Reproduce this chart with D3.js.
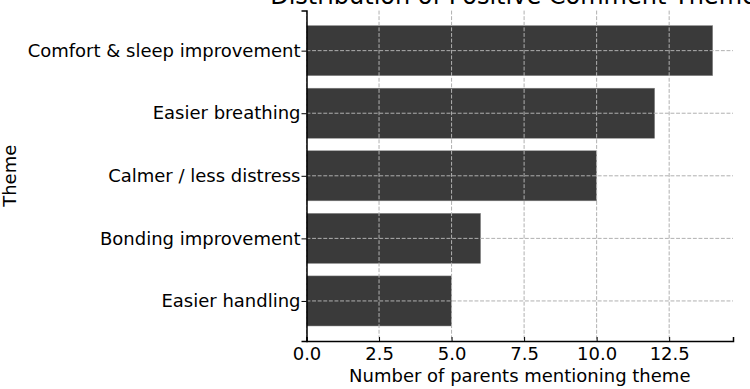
<!DOCTYPE html>
<html>
<head>
<meta charset="utf-8">
<script src="https://cdn.jsdelivr.net/npm/d3@7"></script>
<style>
  body { margin: 0; background: #fff; }
  svg { display: block; font-family: "DejaVu Sans", sans-serif; }
</style>
</head>
<body>
<svg id="chart"></svg>
<script>
// data
var themes = ["Comfort & sleep improvement", "Easier breathing", "Calmer / less distress", "Bonding improvement", "Easier handling"];
var counts = [14, 12, 10, 6, 5];
var xTicks = [0, 2.5, 5, 7.5, 10, 12.5];

var width = 750,
  height = 389,
  margin = {top: 10.6, right: 17, bottom: 48, left: 306.5},
  barColor = "#3a3a3a",
  gridColor = "#b0b0b0",
  fontFamily = "'DejaVu Sans', sans-serif";

var innerW = width - margin.left - margin.right,
  innerH = height - margin.top - margin.bottom;

var svg = d3.select("#chart").attr("width", width).attr("height", height);
var g = svg.append("g").attr("transform", "translate(" + margin.left + "," + margin.top + ")");

var x = d3.scaleLinear().domain([0, d3.max(counts) * 1.05]).range([0, innerW]);
// category positions like matplotlib barh: index 0 at top, 0.64 padding each side
var y = d3.scaleLinear().domain([-0.64, themes.length - 1 + 0.64]).range([0, innerH]);
var barH = y(0.4) - y(-0.4);

g.selectAll("rect.bar")
  .data(themes)
  .enter()
  .append("rect")
  .attr("class", "bar")
  .attr("x", x(0))
  .attr("y", function(d, i) { return y(i) - barH / 2; })
  .attr("width", function(d, i) { return x(counts[i]) - x(0); })
  .attr("height", barH)
  .style("fill", barColor)
  .style("stroke", "#8a8a8a")
  .style("stroke-width", 0.5);

// grid sits on top of the bars
g.selectAll("line.vgrid")
  .data(xTicks)
  .enter()
  .append("line")
  .attr("class", "vgrid")
  .attr("x1", function(d) { return x(d); })
  .attr("x2", function(d) { return x(d); })
  .attr("y1", 0).attr("y2", innerH)
  .style("stroke", gridColor)
  .style("stroke-width", 1)
  .style("stroke-dasharray", "3.9,1.7");

g.selectAll("line.hgrid")
  .data(themes)
  .enter()
  .append("line")
  .attr("class", "hgrid")
  .attr("x1", 0).attr("x2", innerW)
  .attr("y1", function(d, i) { return y(i); })
  .attr("y2", function(d, i) { return y(i); })
  .style("stroke", gridColor)
  .style("stroke-width", 1)
  .style("stroke-dasharray", "3.9,1.7");

// x axis, ticks pointing inward
var xAxis = d3.axisBottom(x).tickValues(xTicks).tickFormat(d3.format(".1f")).tickSizeOuter(0).tickSize(-4).tickPadding(6);
var gx = g.append("g").attr("transform", "translate(0," + innerH + ")").call(xAxis);
gx.attr("font-family", fontFamily).attr("font-size", 18);
gx.select(".domain").style("stroke", "#000").style("stroke-width", 1.5);
gx.selectAll(".tick line").style("stroke", "#000").style("stroke-width", 1);
gx.selectAll("text").style("fill", "#000");

// y axis
var yAxis = d3.axisLeft(y).tickValues(d3.range(themes.length)).tickFormat(function(i) { return themes[i]; }).tickSizeOuter(0).tickSize(5).tickPadding(1);
var gy = g.append("g").call(yAxis);
gy.attr("font-family", fontFamily).attr("font-size", 18);
gy.select(".domain").style("stroke", "#000").style("stroke-width", 1.5);
gy.selectAll(".tick line").style("stroke", "#000").style("stroke-width", 1);
gy.selectAll("text").style("fill", "#000");

// labels
svg.append("text")
  .attr("x", margin.left + innerW / 2)
  .attr("y", 382)
  .attr("text-anchor", "middle")
  .style("font-size", "18px")
  .text("Number of parents mentioning theme");

svg.append("text")
  .attr("transform", "translate(16," + (margin.top + innerH / 2) + ") rotate(-90)")
  .attr("text-anchor", "middle")
  .style("font-size", "18px")
  .text("Theme");

svg.append("text")
  .attr("x", margin.left + innerW / 2)
  .attr("y", 4)
  .attr("text-anchor", "middle")
  .style("font-size", "24px")
  .text("Distribution of Positive Comment Themes");
</script>
</body>
</html>
